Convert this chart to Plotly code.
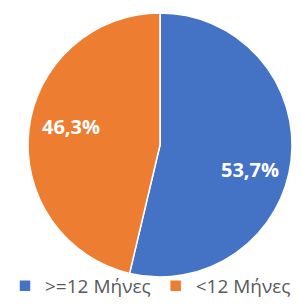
import plotly.graph_objects as go

labels = [">=12 Μήνες", "<12 Μήνες"]
values = [53.7, 46.3]
text_labels = ["53,7%", "46,3%"]
colors = ["#4472C4", "#ED7D31"]

fig = go.Figure(go.Pie(
    labels=labels, values=values, text=text_labels,
    textinfo="none",
    marker=dict(colors=colors, line=dict(color="white", width=1.5)),
    direction="clockwise", sort=False, rotation=0,
    domain=dict(x=[28/301, 292/301], y=[1-277/305, 1-13/305]),
    hoverinfo="none",
))
label_pos = [(250/301, 1-170/305), (71/301, 1-127/305)]
for t, (x, y) in zip(text_labels, label_pos):
    fig.add_annotation(x=x, y=y, xref="paper", yref="paper", text=t, showarrow=False,
                       xanchor="center", yanchor="middle",
                       font=dict(family="Open Sans", size=20, color="white", weight="bold"))
fig.update_layout(
    width=301, height=305,
    margin=dict(l=0, r=0, t=0, b=0),
    paper_bgcolor="white",
    showlegend=True,
    legend=dict(orientation="h", x=0.5, xanchor="center", y=0, yanchor="bottom",
                bgcolor="rgba(0,0,0,0)",
                font=dict(family="Open Sans", size=19, color="#595959"),
                itemwidth=30, traceorder="normal"),
)
fig.write_html("out.html", config={"displayModeBar": False},
               post_script="document.body.style.margin='0px';document.body.style.overflow='hidden';")
